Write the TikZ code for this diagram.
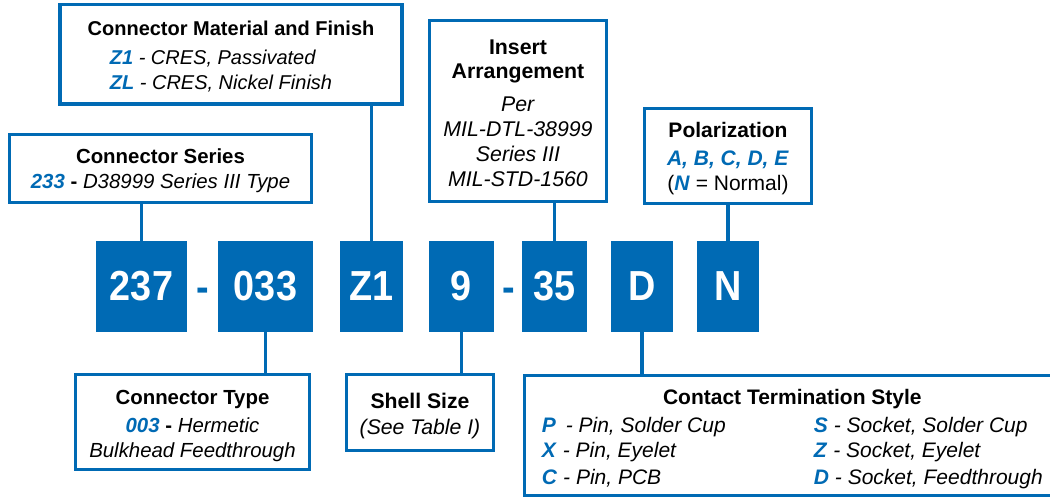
\documentclass[tikz,border=0pt]{standalone}
\usepackage{fontspec}
\setmainfont{Liberation Sans}
\newfontfamily\codefont[FakeStretch=0.9]{Liberation Sans}
\definecolor{pnblue}{RGB}{0,106,180}
\newcommand{\optcode}[1]{\textcolor{pnblue}{\textbf{\textit{#1}}}}
\newcommand{\topgap}[1]{\rule{0pt}{#1}}
\tikzset{
  codebox/.style={fill=pnblue, text=white, minimum height=91pt, inner sep=0pt,
    font=\codefont\bfseries\fontsize{42}{42}\selectfont},
  sep/.style={text=pnblue, inner sep=0pt, anchor=base,
    font=\codefont\bfseries\fontsize{42}{42}\selectfont},
  infobox/.style={draw=pnblue, line width=3.5pt, fill=white, inner sep=0pt,
    align=center, font=\fontsize{#1}{25}\selectfont},
  infobox/.default=20,
  link/.style={draw=pnblue, line width=3.5pt},
}
\begin{document}
\begin{tikzpicture}[x=1pt,y=-1pt]
\useasboundingbox (0,0) rectangle (1050,499);
% part number
\node[codebox, minimum width=91pt] (ser) at (141.5,286.5) {237};
\node[sep] (dash1) at (203,301.5) {-};
\node[codebox, minimum width=95pt] (typ) at (265.5,286.5) {033};
\node[codebox, minimum width=63pt] (mat) at (371.5,286.5) {Z1};
\node[codebox, minimum width=65pt] (shl) at (461.5,286.5) {9};
\node[sep] (dash2) at (508.5,301.5) {-};
\node[codebox, minimum width=65pt] (ins) at (554.5,286.5) {35};
\node[codebox, minimum width=62pt] (con) at (642,286.5) {D};
\node[codebox, minimum width=62pt] (pol) at (728,286.5) {N};

% boxes above
\node[infobox, minimum width=342pt, minimum height=99.5pt] (matInfo) at (231,54.25)
  {\topgap{23.6pt}\textbf{Connector Material and Finish}\\[4pt]
   \hspace*{-20pt}\begin{tabular}[t]{@{}l@{}}
   \optcode{Z1} \textit{- CRES, Passivated}\\
   \optcode{ZL} \textit{- CRES, Nickel Finish}
   \end{tabular}};
\node[infobox=20.4, minimum width=301.6pt, minimum height=67.6pt] (serInfo) at (160.5,168.5)
  {\topgap{18.6pt}\textbf{Connector Series}\\
   \optcode{233} \textbf{-} \textit{D38999 Series III Type}};
\node[infobox=21.3, minimum width=176.6pt, minimum height=180.6pt] (insInfo) at (518,111)
  {\topgap{18.6pt}\textbf{Insert}\\[-1pt]
   \textbf{Arrangement}\\[8pt]
   \textit{Per}\\
   \textit{MIL-DTL-38999}\\
   \textit{Series III}\\
   \textit{MIL-STD-1560}};
\node[infobox=21, minimum width=166.6pt, minimum height=94.6pt] (polInfo) at (728,156)
  {\topgap{20.6pt}\textbf{Polarization}\\[3pt]
   \optcode{A, B, C, D, E}\\
   (\optcode{N} = Normal)};

% boxes below
\node[infobox=20.4, minimum width=233.6pt, minimum height=94.6pt] (typInfo) at (192.5,422)
  {\topgap{21.6pt}\textbf{Connector Type}\\[3pt]
   \optcode{003} \textbf{-} \textit{Hermetic}\\
   \textit{Bulkhead Feedthrough}};
\node[infobox=21.2, minimum width=146.6pt, minimum height=75.6pt] (shlInfo) at (420,412.5)
  {\topgap{22.6pt}\textbf{Shell Size}\\[1pt]
   \textit{(See Table I)}};
\node[infobox=21, minimum width=535.3pt, minimum height=119.6pt] (conInfo) at (792.35,435.5)
  {\topgap{24.6pt}\textbf{Contact Termination Style}\\[3pt]
   \begin{tabular}[t]{@{}p{272pt}@{}l@{}}
   \optcode{P}\hspace{4pt} \textit{- Pin, Solder Cup} & \optcode{S} \textit{- Socket, Solder Cup}\\
   \optcode{X} \textit{- Pin, Eyelet} & \optcode{Z} \textit{- Socket, Eyelet}\\[2pt]
   \optcode{C} \textit{- Pin, PCB} & \optcode{D} \textit{- Socket, Feedthrough}
   \end{tabular}};

% links
\draw[link] (serInfo.south -| ser.north) -- (ser.north);
\draw[link] (matInfo.south -| mat.north) -- (mat.north);
\draw[link] (insInfo.south -| ins.north) -- (ins.north);
\draw[link] (polInfo.south -| pol.north) -- (pol.north);
\draw[link] (typ.south) -- (typ.south |- typInfo.north);
\draw[link] (shl.south) -- (shl.south |- shlInfo.north);
\draw[link] (con.south) -- (con.south |- conInfo.north);
\end{tikzpicture}
\end{document}
